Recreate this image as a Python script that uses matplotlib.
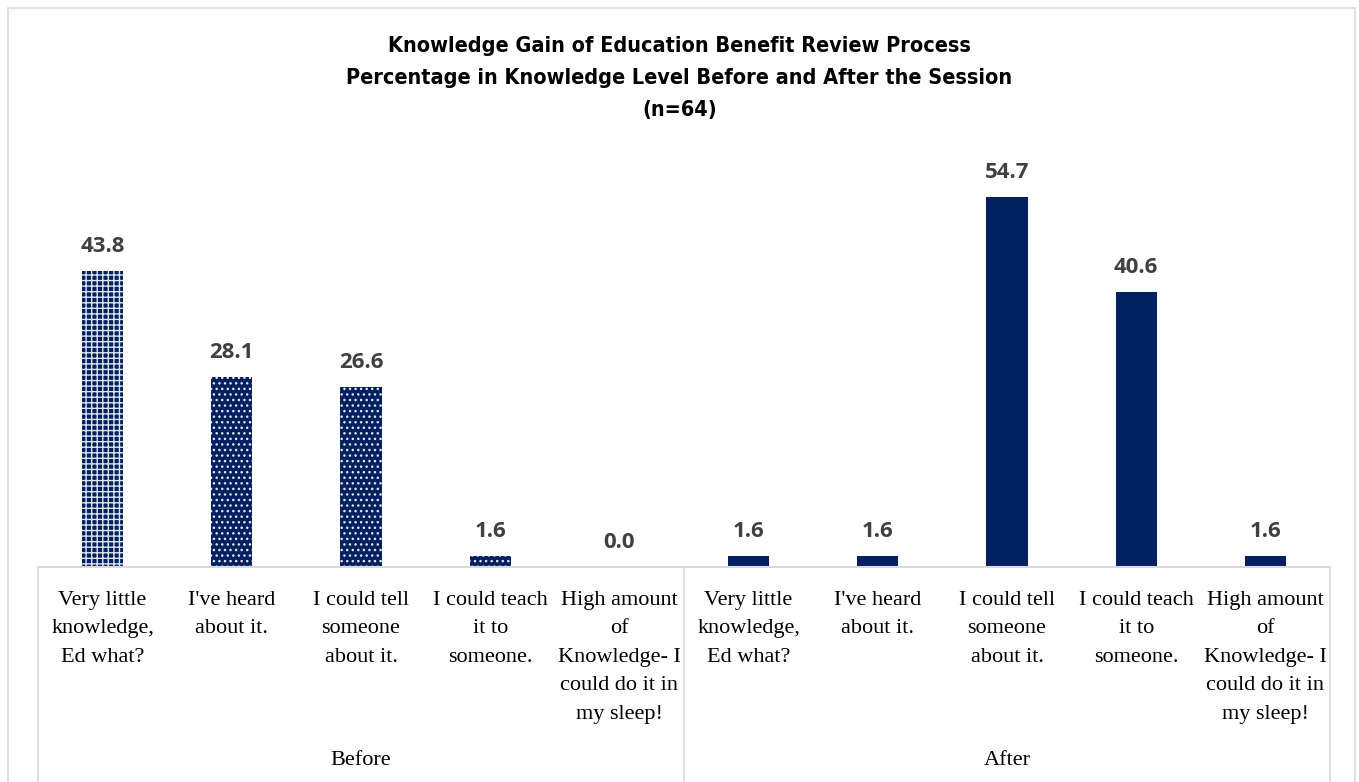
import matplotlib
matplotlib.use("Agg")
import matplotlib.pyplot as plt
from matplotlib.lines import Line2D
from matplotlib.patches import Rectangle
import numpy as np

##########################

groups = ["Before", "After"]
categories = ["Very little\nknowledge,\nEd what?",
              "I've heard\nabout it.",
              "I could tell\nsomeone\nabout it.",
              "I could teach\nit to\nsomeone.",
              "High amount\nof\nKnowledge- I\ncould do it in\nmy sleep!"]
before = [43.8, 28.1, 26.6, 1.6, 0.0]
after = [1.6, 1.6, 54.7, 40.6, 1.6]

title = ("Knowledge Gain of Education Benefit Review Process\n"
         "Percentage in Knowledge Level Before and After the Session\n(n=64)")

navy = "#002060"
grid_col = "#d9d9d9"
W, H = 1359, 782

##########################

fig = plt.figure(figsize=(W / 100, H / 100), dpi=100)

# outer chart border
fig.add_artist(Rectangle((8 / W, -0.01), 1347 / W, 1 - 8 / H + 0.01,
                         transform=fig.transFigure, fill=False,
                         edgecolor=grid_col, linewidth=1.2))

ax = fig.add_axes([38 / W, 215 / H, (1330 - 38) / W, (567 - 161) / H])
ax.set_xlim(-0.5, 9.5)
ax.set_ylim(0, 60)
ax.axis("off")

x = np.arange(10)
values = before + after
hatches = ["+++", "...", "...", "...", "..."]

bars_b = ax.bar(x[:5], before, width=0.32, color=navy, edgecolor="#dfe4ee",
                linewidth=0)
for b, h in zip(bars_b, hatches):
    b.set_hatch(h)
ax.bar(x[5:], after, width=0.32, color=navy, linewidth=0)

for xi, v in zip(x, values):
    ax.annotate("%.1f" % v, (xi, v), xytext=(0, 10), textcoords="offset points",
                ha="center", va="bottom", fontsize=16, fontweight="bold",
                color="#404040", family=["Open Sans", "DejaVu Sans"])

# category axis
ax.add_line(Line2D([-0.5, 9.5], [0, 0], color=grid_col, lw=1.5, clip_on=False))
for xv in [-0.5, 4.5, 9.5]:
    ax.add_line(Line2D([xv, xv], [0, -40], color=grid_col, lw=1.2, clip_on=False))

labels = categories + categories
for xi, lab in zip(x, labels):
    ax.text(xi, -3.5, lab, ha="center", va="top", fontsize=16,
            family=["Liberation Serif", "DejaVu Serif"], linespacing=1.68,
            color="black")
for gi, g in enumerate(groups):
    ax.text(2 + gi * 5, -28.6, g, ha="center", va="center", fontsize=16,
            family=["Liberation Serif", "DejaVu Serif"])

fig.text(0.5, 1 - 78 / H, title, ha="center", va="center", fontsize=15.5,
         fontweight="bold", fontstretch="condensed",
         family=["DejaVu Sans"], linespacing=1.78)

fig.savefig("out.png", dpi=100)
